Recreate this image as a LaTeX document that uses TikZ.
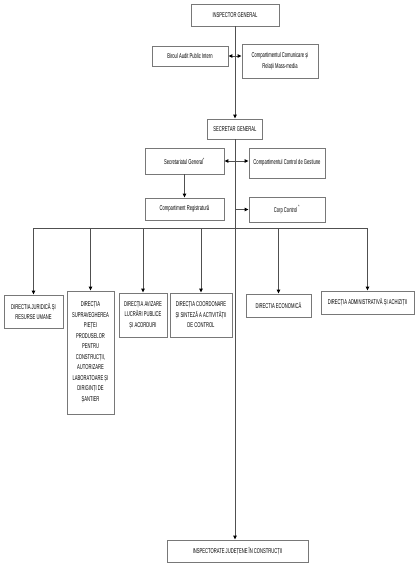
\documentclass[tikz,border=0pt]{standalone}
\usepackage{fontspec}
\setmainfont[FakeStretch=0.59]{Liberation Sans}
\usetikzlibrary{arrows.meta}
\definecolor{boxgray}{RGB}{120,120,120}
\definecolor{linegray}{RGB}{80,80,80}

\begin{document}
\begin{tikzpicture}[x=1pt, y=-1pt,
    box/.style={draw=boxgray, line width=0.8pt, fill=white, align=center, inner sep=1pt, font=\fontsize{7}{10.5}\selectfont},
    link/.style={draw=linegray, line width=1pt},
    arr/.style={link, -{Triangle[length=4pt,width=3.4pt,color=black]}},
    darr/.style={link, {Triangle[length=4pt,width=3.4pt,color=black]}-{Triangle[length=4pt,width=3.4pt,color=black]}}]
    \useasboundingbox (0,0) rectangle (418,566);
    \node[box, minimum width=88pt, minimum height=22pt] (ig) at (235,15) {INSPECTOR GENERAL};
    \node[box, minimum width=76pt, minimum height=20pt] (birou) at (190,56) {Biroul Audit Public Intern};
    \node[box, minimum width=76pt, minimum height=34pt] (comunic) at (280,61) {Compartimentul Comunicare și\\Relații Mass-media};
    \node[box, minimum width=55pt, minimum height=20pt] (sg) at (235,129) {SECRETAR GENERAL};
    \node[box, minimum width=79pt, minimum height=26pt] (secr) at (184.5,161) {Secretariatul General\textsuperscript{*}};
    \node[box, minimum width=76pt, minimum height=30pt] (cgest) at (287,163) {Compartimentul Control de Gestiune};
    \node[box, minimum width=79pt, minimum height=22pt] (reg) at (184.5,209) {Compartiment Registratură};
    \node[box, minimum width=76pt, minimum height=25pt] (corp) at (287,209.5) {Corp Control \textsuperscript{*}};
    \node[box, minimum width=59pt, minimum height=33pt] (d1) at (33.5,311.5) {DIRECTIA JURIDICĂ ȘI\\RESURSE UMANE};
    \node[box, minimum width=47pt, minimum height=123pt] (d2) at (90.5,352.5) {DIRECȚIA\\SUPRAVEGHEREA\\PIEȚEI\\PRODUSELOR\\PENTRU\\CONSTRUCȚII,\\AUTORIZARE\\LABORATOARE ȘI\\DIRIGINȚI DE\\ȘANTIER};
    \node[box, minimum width=48pt, minimum height=44pt] (d3) at (143,315) {DIRECȚIA AVIZARE\\LUCRĂRI PUBLICE\\ȘI ACORDURI};
    \node[box, minimum width=62pt, minimum height=44pt] (d4) at (201,315) {DIRECȚIA COORDONARE\\ȘI SINTEZĂ A ACTIVITĂȚII\\DE CONTROL};
    \node[box, minimum width=65pt, minimum height=23pt] (d5) at (278.5,305.5) {DIRECTIA ECONOMICĂ};
    \node[box, minimum width=93pt, minimum height=23pt] (d6) at (367.5,302.5) {DIRECȚIA ADMINISTRATIVĂ ȘI ACHIZIȚII};
    \node[box, minimum width=141pt, minimum height=22pt] (ij) at (237.5,551) {INSPECTORATE JUDEȚENE ÎN CONSTRUCȚII};
    % trunk and side links
    \draw[arr] (ig.south) -- (sg.north);
    \draw[arr] (sg.south) -- (sg.south |- ij.north);
    \draw[darr] (birou.east) -- (birou.east -| comunic.west);
    \draw[darr] (secr.east) -- (secr.east -| cgest.west);
    \draw[arr] (secr.south) -- (reg.north);
    \draw[arr] (corp.west -| sg.south) -- (corp.west);
    % directions
    \coordinate (busl) at (33.5,228);
    \coordinate (busr) at (367.5,228);
    \draw[link] (busl) -- (busr);
    \foreach \d in {d1,d2,d3,d4,d5,d6}
        \draw[arr] (\d.north |- busl) -- (\d.north);
\end{tikzpicture}
\end{document}
